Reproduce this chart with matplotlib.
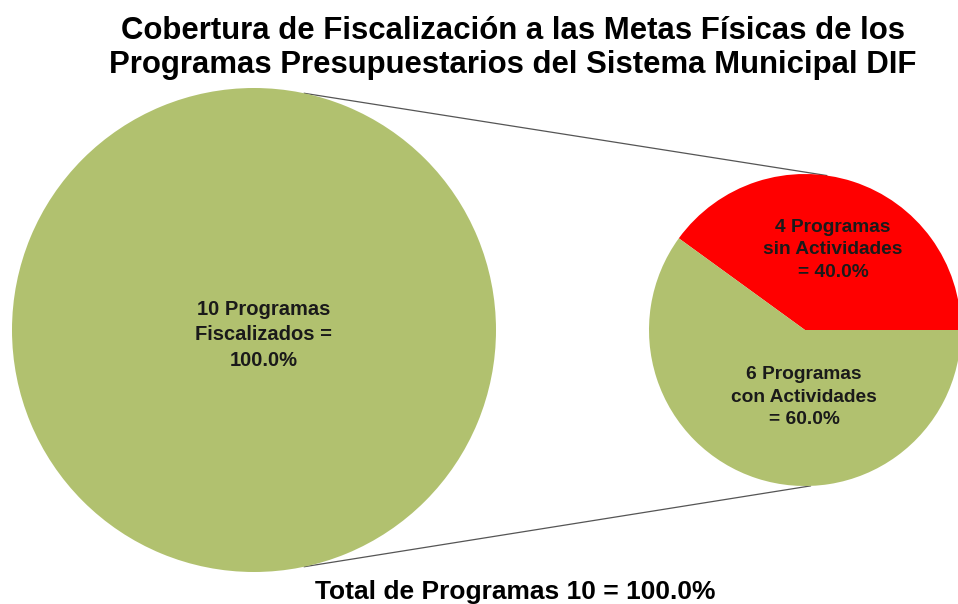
import matplotlib.pyplot as plt
import numpy as np

plt.rcParams['font.family'] = ['Liberation Sans', 'DejaVu Sans']

title_lines = ["Cobertura de Fiscalización a las Metas Físicas de los",
               "Programas Presupuestarios del Sistema Municipal DIF"]
total_label = "Total de Programas 10 = 100.0%"

# big pie: all programmes audited
big_values = [10]
big_labels = ["10 Programas\nFiscalizados =\n100.0%"]

# small pie: breakdown
small_values = [4, 6]
small_labels = ["4 Programas\nsin Actividades\n= 40.0%",
                "6 Programas\ncon Actividades\n= 60.0%"]

green = "#b1c16f"
red = "#ff0000"

W, H = 958, 604
fig = plt.figure(figsize=(W / 100, H / 100), dpi=100)
ax = fig.add_axes([0, 0, 1, 1])

big_c, big_r = (254, H - 330), 242
small_c, small_r = (805, H - 330), 156

ax.pie(big_values, colors=[green], center=big_c, radius=big_r,
       startangle=90, wedgeprops=dict(edgecolor="none"))
ax.pie(small_values, colors=[red, green], center=small_c, radius=small_r,
       startangle=0, counterclock=True, wedgeprops=dict(edgecolor="none"))

# connector lines between the two circles
def on_circle(c, r, ang):
    a = np.deg2rad(ang)
    return c[0] + r * np.cos(a), c[1] + r * np.sin(a)

for a_big, a_small in [(78, 82), (-78, -88)]:
    p1 = on_circle(big_c, big_r, a_big)
    p2 = on_circle(small_c, small_r, a_small)
    ax.plot([p1[0], p2[0]], [p1[1], p2[1]], color="#555555", lw=0.9, zorder=0)

txt_col = "#1a1a1a"
ax.text(big_c[0] + 10, big_c[1] - 5, big_labels[0], ha="center", va="center",
        fontsize=14.5, fontweight="bold", color=txt_col, linespacing=1.45)
ax.text(small_c[0] + 28, small_c[1] + 80, small_labels[0], ha="center", va="center",
        fontsize=13.8, fontweight="bold", color=txt_col, linespacing=1.4)
ax.text(small_c[0] - 1, small_c[1] - 67, small_labels[1], ha="center", va="center",
        fontsize=13.8, fontweight="bold", color=txt_col, linespacing=1.4)

ax.text(513, H - 39, title_lines[0], ha="center", va="baseline",
        fontsize=22.4, fontweight="bold", color="black")
ax.text(513, H - 73, title_lines[1], ha="center", va="baseline",
        fontsize=22.4, fontweight="bold", color="black")
ax.text(515, H - 599, total_label, ha="center", va="baseline",
        fontsize=19, fontweight="bold", color="black")

ax.set_xlim(0, W)
ax.set_ylim(0, H)
ax.set_aspect("equal")
ax.axis("off")

fig.savefig("out.png", dpi=100)
